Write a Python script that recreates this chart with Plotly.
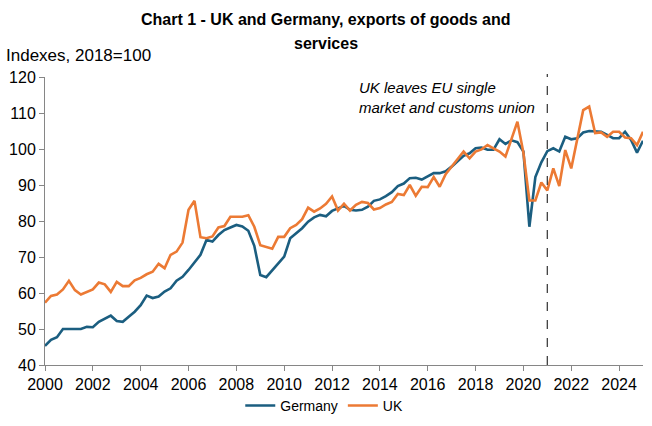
import plotly.graph_objects as go

# Quarterly data, 2000 Q1 .. 2025 Q1 (indexes, 2018=100)
start_year = 2000
germany = [
    45.3, 47.0, 47.7, 50.0, 50.0, 50.1, 50.0, 50.6, 50.5, 52.0,
    52.9, 53.7, 52.2, 52.0, 53.4, 54.8, 56.6, 59.3, 58.6, 59.0,
    60.4, 61.3, 63.4, 64.5, 66.4, 68.4, 70.6, 74.7, 74.3, 76.1,
    77.5, 78.2, 78.9, 78.5, 77.3, 73.1, 65.0, 64.4, 66.4, 68.2,
    70.1, 75.2, 76.6, 78.0, 79.8, 81.0, 81.7, 81.3, 82.8, 83.5,
    84.2, 83.1, 82.9, 83.1, 84.0, 85.6, 86.0, 86.9, 88.0, 89.7,
    90.4, 91.9, 92.0, 91.5, 92.5, 93.3, 93.3, 93.8, 95.1, 96.5,
    98.1, 98.8, 100.2, 100.4, 99.8, 99.8, 102.7, 101.4, 102.4, 101.9,
    99.3, 78.4, 92.2, 96.3, 99.4, 100.2, 99.3, 103.4, 102.7, 103.0,
    104.6, 105.0, 104.9, 104.8, 103.9, 103.0, 103.0, 104.8, 102.5, 99.0,
    102.3,
]
uk = [
    57.3, 59.2, 59.6, 61.0, 63.4, 60.8, 59.6, 60.2, 61.0, 62.9,
    62.4, 60.3, 63.1, 61.9, 61.9, 63.5, 64.2, 65.2, 65.9, 68.1,
    66.9, 70.6, 71.5, 74.0, 83.1, 85.6, 75.5, 75.2, 75.7, 78.2,
    78.6, 81.2, 81.2, 81.2, 81.6, 78.4, 73.3, 72.7, 72.3, 75.6,
    75.6, 78.0, 78.9, 80.5, 83.7, 82.6, 83.5, 84.8, 86.8, 82.9,
    84.8, 82.9, 84.5, 85.3, 85.0, 83.2, 83.6, 84.6, 85.3, 87.5,
    87.2, 90.0, 87.0, 89.5, 89.4, 92.2, 89.5, 93.0, 95.0, 97.0,
    99.3, 97.4, 99.3, 99.9, 101.1, 100.2, 99.3, 97.9, 102.6, 107.6,
    99.0, 85.7, 85.7, 90.7, 88.5, 94.6, 89.7, 99.7, 94.6, 102.5,
    110.8, 111.8, 104.4, 104.6, 103.4, 104.8, 104.8, 103.2, 103.0, 101.1,
    104.8,
]
year_ticks = [str(y) for y in range(2000, 2025, 2)]
brexit_year = 2021

x = [start_year + i / 4 for i in range(len(germany))]

FONT = "Liberation Sans, Arial, sans-serif"
AXIS_COL = "#868686"

fig = go.Figure()
fig.add_trace(go.Scatter(x=x, y=germany, mode="lines", name="Germany",
                         line=dict(color="#1B5E80", width=2.6)))
fig.add_trace(go.Scatter(x=x, y=uk, mode="lines", name="UK",
                         line=dict(color="#EC7A34", width=2.6)))

fig.add_shape(type="line", xref="x", yref="paper", x0=brexit_year, x1=brexit_year,
              y0=0, y1=1.01, line=dict(color="#404040", width=1.3, dash="dash"))

fig.add_annotation(xref="paper", yref="paper", x=0.522, y=1.0, xanchor="left", yanchor="top",
                   text="<i>UK leaves EU single<br>market and customs union</i>", showarrow=False,
                   align="left", font=dict(family=FONT, size=15, color="black"))

fig.add_annotation(xref="paper", yref="paper", x=-0.069, y=1.073, xanchor="left", yanchor="middle",
                   text="Indexes, 2018=100", showarrow=False,
                   font=dict(family=FONT, size=17, color="black"))

# Title, two lines
fig.add_annotation(xref="paper", yref="paper", x=0.47, y=1.198, xanchor="center", yanchor="middle",
                   text="<b>Chart 1 - UK and Germany, exports of goods and</b>", showarrow=False,
                   font=dict(family=FONT, size=16, color="black"))
fig.add_annotation(xref="paper", yref="paper", x=0.47, y=1.115, xanchor="center", yanchor="middle",
                   text="<b>services</b>", showarrow=False,
                   font=dict(family=FONT, size=16, color="black"))

fig.update_layout(
    width=652, height=426,
    margin=dict(l=45, r=9, t=77, b=61, autoexpand=False),
    paper_bgcolor="white", plot_bgcolor="white",
    font=dict(family=FONT, size=16, color="black"),
    showlegend=True,
    legend=dict(orientation="h", x=0.467, xanchor="center", y=-0.142, yanchor="middle",
                font=dict(family=FONT, size=14), itemwidth=30, bgcolor="rgba(0,0,0,0)"),
    xaxis=dict(range=[2000, 2025], tickmode="array",
               tickvals=[int(t) for t in year_ticks], ticktext=year_ticks, automargin=False,
               showgrid=False, zeroline=False, showline=True, linecolor=AXIS_COL, linewidth=1,
               ticks="outside", tickcolor=AXIS_COL, ticklen=5, tickfont=dict(size=16)),
    yaxis=dict(range=[40, 120], dtick=10, showgrid=False, zeroline=False, showline=True,
               automargin=False,
               linecolor=AXIS_COL, linewidth=1, ticks="outside", tickcolor=AXIS_COL, ticklen=5,
               tickfont=dict(size=16)),
)

fig.write_html("out.html", config={"displayModeBar": False},
               post_script="document.body.style.margin='0px';")
